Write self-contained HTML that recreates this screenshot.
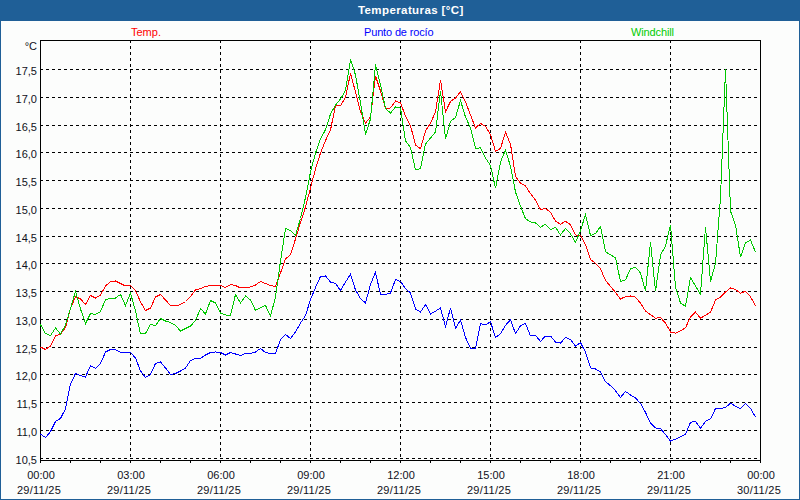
<!DOCTYPE html>
<html><head><meta charset="utf-8"><style>
html,body{margin:0;padding:0;}
body{width:800px;height:500px;position:relative;overflow:hidden;background:#fcfdfc;font-family:"Liberation Sans",sans-serif;font-size:11px;}
#hdr{position:absolute;left:0;top:0;width:800px;height:21px;background:#1f5f97;}
#bl{position:absolute;left:0;top:0;width:1px;height:500px;background:#1f5f97;}
#br{position:absolute;left:799px;top:0;width:1px;height:500px;background:#1f5f97;}
#bb{position:absolute;left:0;top:499px;width:800px;height:1px;background:#1f5f97;}
.t{position:absolute;white-space:nowrap;line-height:13px;}
.yl{position:absolute;right:763px;white-space:nowrap;line-height:13px;color:#101020;}
.xl{position:absolute;white-space:nowrap;line-height:15px;color:#101020;text-align:center;width:80px;}
.xd{letter-spacing:0.28px;}
svg{position:absolute;left:0;top:0;}
.g{stroke:#000;stroke-width:1;stroke-dasharray:3 3;}
</style></head><body>
<div id="hdr"></div><div id="bl"></div><div id="br"></div><div id="bb"></div>
<div class="t" style="left:358px;top:4px;color:#fff;font-weight:bold;font-size:11.5px;letter-spacing:0.4px;">Temperaturas [°C]</div>
<div class="t" style="left:131px;top:26px;color:#ff0000;">Temp.</div>
<div class="t" style="left:364px;top:26px;color:#0000ff;letter-spacing:-0.15px;">Punto de rocío</div>
<div class="t" style="left:631px;top:26px;color:#00cc00;letter-spacing:-0.12px;">Windchill</div>
<div class="yl" style="top:40px;right:763px;">°C</div>
<div class="yl" style="top:454px;">10,5</div><div class="yl" style="top:426px;">11,0</div><div class="yl" style="top:398px;">11,5</div><div class="yl" style="top:370px;">12,0</div><div class="yl" style="top:343px;">12,5</div><div class="yl" style="top:315px;">13,0</div><div class="yl" style="top:287px;">13,5</div><div class="yl" style="top:259px;">14,0</div><div class="yl" style="top:232px;">14,5</div><div class="yl" style="top:204px;">15,0</div><div class="yl" style="top:176px;">15,5</div><div class="yl" style="top:148px;">16,0</div><div class="yl" style="top:121px;">16,5</div><div class="yl" style="top:93px;">17,0</div><div class="yl" style="top:65px;">17,5</div>
<div class="xl" style="left:1px;top:468px;">00:00</div><div class="xl xd" style="left:-1px;top:483px;">29/11/25</div><div class="xl" style="left:91px;top:468px;">03:00</div><div class="xl xd" style="left:89px;top:483px;">29/11/25</div><div class="xl" style="left:181px;top:468px;">06:00</div><div class="xl xd" style="left:179px;top:483px;">29/11/25</div><div class="xl" style="left:271px;top:468px;">09:00</div><div class="xl xd" style="left:269px;top:483px;">29/11/25</div><div class="xl" style="left:361px;top:468px;">12:00</div><div class="xl xd" style="left:359px;top:483px;">29/11/25</div><div class="xl" style="left:451px;top:468px;">15:00</div><div class="xl xd" style="left:449px;top:483px;">29/11/25</div><div class="xl" style="left:541px;top:468px;">18:00</div><div class="xl xd" style="left:539px;top:483px;">29/11/25</div><div class="xl" style="left:631px;top:468px;">21:00</div><div class="xl xd" style="left:629px;top:483px;">29/11/25</div><div class="xl" style="left:721px;top:468px;">00:00</div><div class="xl xd" style="left:719px;top:483px;">30/11/25</div>
<svg width="800" height="500" shape-rendering="crispEdges">
<line x1="40" y1="458.5" x2="760" y2="458.5" class="g"/>
<line x1="40" y1="430.5" x2="760" y2="430.5" class="g"/>
<line x1="40" y1="402.5" x2="760" y2="402.5" class="g"/>
<line x1="40" y1="374.5" x2="760" y2="374.5" class="g"/>
<line x1="40" y1="347.5" x2="760" y2="347.5" class="g"/>
<line x1="40" y1="319.5" x2="760" y2="319.5" class="g"/>
<line x1="40" y1="291.5" x2="760" y2="291.5" class="g"/>
<line x1="40" y1="263.5" x2="760" y2="263.5" class="g"/>
<line x1="40" y1="236.5" x2="760" y2="236.5" class="g"/>
<line x1="40" y1="208.5" x2="760" y2="208.5" class="g"/>
<line x1="40" y1="180.5" x2="760" y2="180.5" class="g"/>
<line x1="40" y1="152.5" x2="760" y2="152.5" class="g"/>
<line x1="40" y1="125.5" x2="760" y2="125.5" class="g"/>
<line x1="40" y1="97.5" x2="760" y2="97.5" class="g"/>
<line x1="40" y1="69.5" x2="760" y2="69.5" class="g"/>
<line x1="130.5" y1="40" x2="130.5" y2="460" class="g"/>
<line x1="220.5" y1="40" x2="220.5" y2="460" class="g"/>
<line x1="310.5" y1="40" x2="310.5" y2="460" class="g"/>
<line x1="400.5" y1="40" x2="400.5" y2="460" class="g"/>
<line x1="490.5" y1="40" x2="490.5" y2="460" class="g"/>
<line x1="580.5" y1="40" x2="580.5" y2="460" class="g"/>
<line x1="670.5" y1="40" x2="670.5" y2="460" class="g"/>
<rect x="40.5" y="40.5" width="720" height="420" fill="none" stroke="#000" stroke-width="1"/>
<line x1="40.5" y1="460" x2="40.5" y2="463" stroke="#000"/>
<line x1="70.5" y1="460" x2="70.5" y2="463" stroke="#000"/>
<line x1="100.5" y1="460" x2="100.5" y2="463" stroke="#000"/>
<line x1="130.5" y1="460" x2="130.5" y2="463" stroke="#000"/>
<line x1="160.5" y1="460" x2="160.5" y2="463" stroke="#000"/>
<line x1="190.5" y1="460" x2="190.5" y2="463" stroke="#000"/>
<line x1="220.5" y1="460" x2="220.5" y2="463" stroke="#000"/>
<line x1="250.5" y1="460" x2="250.5" y2="463" stroke="#000"/>
<line x1="280.5" y1="460" x2="280.5" y2="463" stroke="#000"/>
<line x1="310.5" y1="460" x2="310.5" y2="463" stroke="#000"/>
<line x1="340.5" y1="460" x2="340.5" y2="463" stroke="#000"/>
<line x1="370.5" y1="460" x2="370.5" y2="463" stroke="#000"/>
<line x1="400.5" y1="460" x2="400.5" y2="463" stroke="#000"/>
<line x1="430.5" y1="460" x2="430.5" y2="463" stroke="#000"/>
<line x1="460.5" y1="460" x2="460.5" y2="463" stroke="#000"/>
<line x1="490.5" y1="460" x2="490.5" y2="463" stroke="#000"/>
<line x1="520.5" y1="460" x2="520.5" y2="463" stroke="#000"/>
<line x1="550.5" y1="460" x2="550.5" y2="463" stroke="#000"/>
<line x1="580.5" y1="460" x2="580.5" y2="463" stroke="#000"/>
<line x1="610.5" y1="460" x2="610.5" y2="463" stroke="#000"/>
<line x1="640.5" y1="460" x2="640.5" y2="463" stroke="#000"/>
<line x1="670.5" y1="460" x2="670.5" y2="463" stroke="#000"/>
<line x1="700.5" y1="460" x2="700.5" y2="463" stroke="#000"/>
<line x1="730.5" y1="460" x2="730.5" y2="463" stroke="#000"/>
<line x1="760.5" y1="460" x2="760.5" y2="463" stroke="#000"/>
</svg>
<svg width="800" height="500" shape-rendering="crispEdges">
<polyline points="40.5,347.0 45.5,349.5 50.5,346.0 55.5,336.0 60.5,334.0 65.5,327.5 70.5,308.5 75.5,296.5 80.5,299.0 85.5,304.5 90.5,295.5 95.5,298.0 100.5,295.0 105.5,286.0 110.5,281.5 115.5,281.0 120.5,283.5 125.5,286.0 130.5,285.5 135.5,290.5 140.5,302.0 145.5,310.5 150.5,308.0 155.5,297.0 160.5,294.5 165.5,300.0 170.5,305.5 175.5,306.0 180.5,304.5 185.5,301.5 190.5,296.5 195.5,290.0 200.5,288.5 205.5,286.5 210.5,285.5 215.5,285.5 220.5,285.5 225.5,287.5 230.5,284.5 235.5,285.5 240.5,288.0 245.5,287.5 250.5,287.0 255.5,285.0 260.5,281.5 265.5,283.5 270.5,285.5 275.5,286.5 280.5,273.0 285.5,259.0 290.5,254.5 295.5,239.0 300.5,222.5 305.5,207.0 310.5,188.0 315.5,169.0 320.5,153.0 325.5,140.5 330.5,130.0 335.5,105.5 340.5,106.0 345.5,97.0 350.5,73.5 355.5,92.0 360.5,112.0 365.5,123.0 370.5,117.0 375.5,76.0 380.5,91.0 385.5,108.5 390.5,108.0 395.5,101.0 400.5,103.0 405.5,116.0 410.5,125.6 415.5,145.0 420.5,148.8 425.5,131.0 430.5,123.2 435.5,111.8 440.5,80.2 445.5,111.8 450.5,101.4 455.5,98.1 460.5,91.6 465.5,101.8 470.5,115.0 475.5,128.0 480.5,123.4 485.5,126.3 490.5,134.6 495.5,151.3 500.5,148.4 505.5,132.2 510.5,144.2 515.5,176.4 520.5,183.0 525.5,186.0 530.5,193.6 535.5,200.0 540.5,209.5 545.5,208.6 550.5,212.2 555.5,221.2 560.5,224.2 565.5,221.2 570.5,224.8 575.5,235.0 580.5,235.3 585.5,244.6 590.5,259.6 595.5,263.2 600.5,268.8 605.5,280.4 610.5,286.4 615.5,292.4 620.5,299.0 625.5,296.6 630.5,296.0 635.5,297.2 640.5,303.2 645.5,311.0 650.5,314.6 655.5,318.2 660.5,317.6 665.5,323.0 670.5,332.0 675.5,333.2 680.5,330.8 685.5,327.8 690.5,317.0 695.5,312.2 700.5,318.2 705.5,315.2 710.5,312.2 715.5,300.0 720.5,297.0 725.5,292.0 730.5,288.0 735.5,289.6 740.5,293.2 745.5,291.2 750.5,296.8 755.5,305.6" fill="none" stroke="#ff0000" stroke-width="1"/>
<polyline points="40.5,324.5 45.5,333.5 50.5,335.5 55.5,328.0 60.5,334.0 65.5,325.0 70.5,308.5 75.5,291.5 80.5,309.0 85.5,323.5 90.5,313.5 95.5,314.5 100.5,311.5 105.5,299.5 110.5,298.5 115.5,298.0 120.5,294.5 125.5,305.5 130.5,293.0 135.5,311.0 140.5,334.0 145.5,333.5 150.5,324.5 155.5,325.5 160.5,318.5 165.5,321.0 170.5,322.5 175.5,325.5 180.5,331.0 185.5,328.5 190.5,326.0 195.5,320.5 200.5,308.5 205.5,314.0 210.5,300.5 215.5,303.0 220.5,313.0 225.5,315.0 230.5,315.5 235.5,294.5 240.5,303.0 245.5,296.0 250.5,300.0 255.5,310.5 260.5,307.5 265.5,305.5 270.5,316.0 275.5,297.0 280.5,261.0 285.5,228.5 290.5,230.5 295.5,235.5 300.5,218.5 305.5,197.5 310.5,172.0 315.5,153.0 320.5,139.0 325.5,129.6 330.5,114.0 335.5,105.0 340.5,99.0 345.5,90.5 350.5,59.5 355.5,75.0 360.5,103.0 365.5,134.4 370.5,119.0 375.5,64.5 380.5,85.0 385.5,108.5 390.5,113.0 395.5,107.0 400.5,108.2 405.5,140.8 410.5,147.6 415.5,169.8 420.5,168.6 425.5,144.0 430.5,138.0 435.5,132.0 440.5,91.0 445.5,139.0 450.5,121.4 455.5,117.6 460.5,100.5 465.5,117.0 470.5,128.0 475.5,148.4 480.5,147.8 485.5,158.0 490.5,165.4 495.5,188.4 500.5,162.0 505.5,150.0 510.5,166.4 515.5,192.0 520.5,206.0 525.5,218.8 530.5,221.8 535.5,223.0 540.5,227.2 545.5,224.2 550.5,229.6 555.5,227.2 560.5,235.0 565.5,228.4 570.5,233.8 575.5,242.2 580.5,230.8 585.5,214.5 590.5,235.6 595.5,233.5 600.5,226.6 605.5,251.8 610.5,254.8 615.5,257.8 620.5,281.6 625.5,279.8 630.5,269.0 635.5,267.2 640.5,273.0 645.5,291.2 650.5,242.2 655.5,291.2 660.5,255.0 665.5,246.0 670.5,224.6 675.5,287.0 680.5,303.0 685.5,306.4 690.5,277.6 695.5,286.0 700.5,294.4 705.5,227.0 710.5,281.5 715.5,263.2 720.5,198.0 725.5,69.0 730.5,211.0 735.5,225.0 740.5,257.0 745.5,243.0 750.5,240.0 755.5,252.0" fill="none" stroke="#00c800" stroke-width="1"/>
<polyline points="40.5,434.0 45.5,437.6 50.5,431.6 55.5,421.4 60.5,418.4 65.5,408.8 70.5,384.0 75.5,373.5 80.5,375.5 85.5,377.0 90.5,365.5 95.5,368.5 100.5,363.5 105.5,352.0 110.5,349.5 115.5,349.5 120.5,352.5 125.5,352.5 130.5,352.5 135.5,358.0 140.5,371.0 145.5,377.5 150.5,374.5 155.5,363.5 160.5,362.0 165.5,368.0 170.5,374.5 175.5,373.5 180.5,371.0 185.5,368.0 190.5,360.5 195.5,358.5 200.5,358.5 205.5,355.0 210.5,352.5 215.5,352.0 220.5,352.5 225.5,355.0 230.5,352.5 235.5,354.0 240.5,355.5 245.5,353.5 250.5,353.5 255.5,352.0 260.5,348.5 265.5,352.5 270.5,353.5 275.5,353.5 280.5,339.5 285.5,334.5 290.5,338.5 295.5,332.0 300.5,323.0 305.5,315.5 310.5,299.5 315.5,287.5 320.5,276.5 325.5,276.0 330.5,282.0 335.5,283.5 340.5,290.5 345.5,282.0 350.5,274.3 355.5,290.0 360.5,298.5 365.5,303.0 370.5,284.5 375.5,272.3 380.5,294.5 385.5,294.5 390.5,293.0 395.5,279.5 400.5,281.5 405.5,288.5 410.5,293.0 415.5,309.0 420.5,312.0 425.5,304.5 430.5,314.0 435.5,311.2 440.5,308.0 445.5,326.6 450.5,308.0 455.5,328.4 460.5,320.0 465.5,337.4 470.5,348.2 475.5,348.2 480.5,323.6 485.5,324.8 490.5,321.8 495.5,337.4 500.5,333.7 505.5,325.3 510.5,319.8 515.5,333.6 520.5,325.8 525.5,323.4 530.5,336.0 535.5,335.4 540.5,341.4 545.5,336.0 550.5,336.0 555.5,342.0 560.5,343.2 565.5,337.2 570.5,339.6 575.5,346.2 580.5,342.6 585.5,352.2 590.5,367.8 595.5,369.0 600.5,372.0 605.5,381.6 610.5,385.8 615.5,390.8 620.5,397.4 625.5,391.4 630.5,395.0 635.5,398.0 640.5,403.4 645.5,412.4 650.5,423.2 655.5,428.0 660.5,428.6 665.5,434.5 670.5,441.0 675.5,439.2 680.5,436.8 685.5,434.4 690.5,422.4 695.5,421.2 700.5,428.4 705.5,421.2 710.5,418.8 715.5,408.6 720.5,408.6 725.5,407.4 730.5,403.2 735.5,406.2 740.5,408.8 745.5,403.6 750.5,408.4 755.5,417.2" fill="none" stroke="#0000ff" stroke-width="1"/>
</svg>
</body></html>
